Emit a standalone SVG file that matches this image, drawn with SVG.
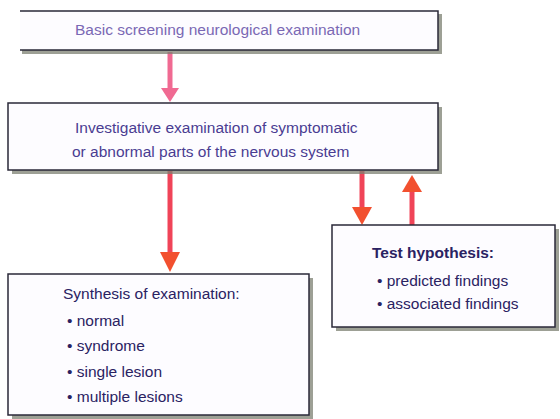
<svg xmlns="http://www.w3.org/2000/svg" width="560" height="419" viewBox="0 0 560 419">
<style>
.box{fill:#fdfcff;stroke:#2a2838;stroke-width:1.5}
.sh{fill:#7c8072;opacity:0.75}
.t{font-family:"Liberation Sans",Arial,sans-serif;font-size:15.5px;fill:#2a2262}
.t1{fill:#7a68b4}
.t2{fill:#4a3c92}
.b{font-weight:bold}
.shaft{stroke:#f04458;stroke-width:5;fill:none}
.pk{stroke:#f06a92}
.hd{fill:#f2502f}
.hp{fill:#f06a92}
</style>
<g id="connectors">
<line class="shaft pk" x1="170" y1="52" x2="170" y2="89"/>
<polygon class="hp" points="161,88 179,88 170,102"/>
<line class="shaft" x1="170" y1="171" x2="170" y2="253"/>
<polygon class="hd" points="160,252 180,252 170,272"/>
<line class="shaft" x1="362" y1="171" x2="362" y2="208"/>
<polygon class="hd" points="352,207 372,207 362,225"/>
<line class="shaft" x1="412" y1="225" x2="412" y2="191"/>
<polygon class="hd" points="402,192 422,192 412,175"/>
</g>
<g id="n1">
<rect class="sh" x="22" y="14" width="420" height="40"/>
<rect class="box" x="20" y="11" width="418" height="39" style="stroke:none"/>
<path d="M20,11 H438 V50 H20" fill="none" stroke="#2a2838" stroke-width="1.5"/>
<text class="t t1" x="75" y="35">Basic screening neurological examination</text>
</g>
<g id="n2">
<rect class="sh" x="12" y="107" width="430" height="67"/>
<rect class="box" x="8" y="103" width="430" height="67"/>
<text class="t t2" x="75" y="133">Investigative examination of symptomatic</text>
<text class="t t2" x="72" y="157">or abnormal parts of the nervous system</text>
</g>
<g id="n3">
<rect class="sh" x="12" y="278" width="301" height="141"/>
<rect class="box" x="8" y="274" width="301" height="141"/>
<text class="t" x="63" y="299">Synthesis of examination:</text>
<text class="t" x="67" y="326">• normal</text>
<text class="t" x="67" y="351">• syndrome</text>
<text class="t" x="67" y="377">• single lesion</text>
<text class="t" x="67" y="402">• multiple lesions</text>
</g>
<g id="n4">
<rect class="sh" x="336" y="229" width="223" height="102"/>
<rect class="box" x="332" y="225" width="223" height="102"/>
<text class="t b" x="372" y="258">Test hypothesis:</text>
<text class="t" x="377" y="286">• predicted findings</text>
<text class="t" x="377" y="309">• associated findings</text>
</g>
</svg>
